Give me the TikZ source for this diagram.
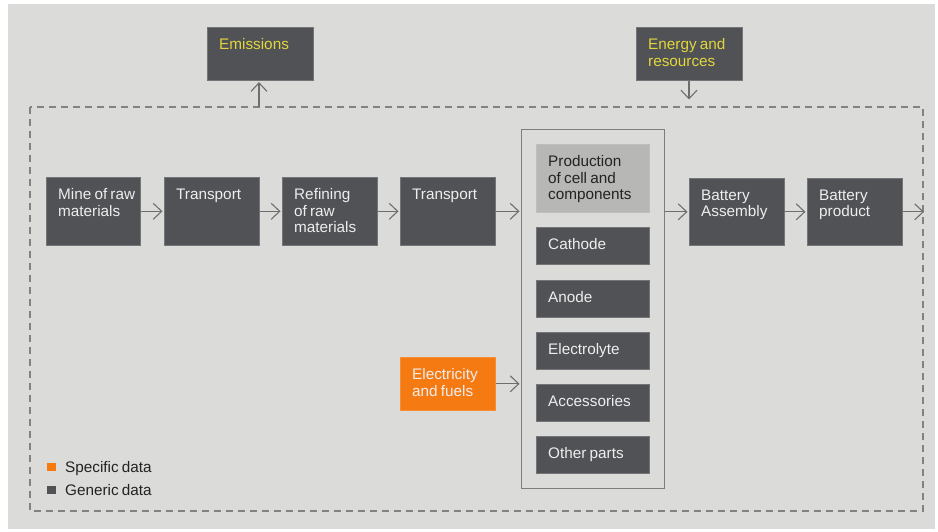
\documentclass[tikz,border=0pt]{standalone}
\usepackage{fontspec}
\setmainfont{Liberation Sans}[WordSpace=0.75]
\usetikzlibrary{arrows.meta}
\definecolor{bg}{RGB}{219,219,217}
\definecolor{dk}{RGB}{80,82,86}
\definecolor{lt}{RGB}{183,183,182}
\definecolor{yel}{RGB}{226,214,60}
\definecolor{org}{RGB}{246,122,18}
\definecolor{ln}{RGB}{110,110,110}
\definecolor{dsh}{RGB}{130,130,130}
\definecolor{txtlight}{RGB}{238,238,238}
\definecolor{txtdark}{RGB}{35,35,35}
\newcommand\mybox[8]{%
  \node[#6, minimum width=#4pt, minimum height=#5pt] (#1) at (#2,#3) {};
  \node[lbl,#7] (#1t) at ([xshift=12pt,yshift=-11.5pt]#1.north west) {#8};}
\begin{document}
\begin{tikzpicture}[x=1pt,y=-1pt,
  gbox/.style={rectangle, fill=dk, draw=dk!80!white, line width=0.6pt, inner sep=0pt, anchor=north west},
  lbox/.style={rectangle, fill=lt, draw=lt!90!white, line width=0.6pt, inner sep=0pt, anchor=north west},
  obox/.style={rectangle, fill=org, draw=org!85!white, line width=0.6pt, inner sep=0pt, anchor=north west},
  cbox/.style={rectangle, draw=ln!90!white, line width=1.2pt, inner sep=0pt, anchor=north west},
  lbl/.style={anchor=north west, inner sep=0pt, align=left, font=\fontsize{15.3}{16.5}\selectfont},
  wt/.style={text=txtlight},
  yt/.style={text=yel},
  dt/.style={text=txtdark},
  arr/.style={draw=ln, line width=1.1pt, shorten >=1.5pt, -{Straight Barb[length=8.5pt,width=16pt,line width=1.1pt]}},
  dashbox/.style={draw=dsh, line width=1.3pt, dash pattern=on 7pt off 5pt},
  legtxt/.style={anchor=base west, inner sep=0pt, text=txtdark, font=\fontsize{15.3}{16.5}\selectfont}
]
\useasboundingbox (0,0) rectangle (938,531);
\fill[white] (0,0) rectangle (938,531);
\fill[bg] (8,4) rectangle (935,529);

% dashed system boundary
\draw[dashbox] (30,107) rectangle (923,511);

% top boxes
\mybox{emis}{207}{27}{106}{53}{gbox}{yt}{Emissions}
\mybox{ener}{636}{27}{106}{53}{gbox}{yt}{Energy and\\resources}

% main chain
\mybox{mine}{46}{177}{94}{68}{gbox}{wt}{Mine of raw\\materials}
\mybox{tra}{164}{177}{95}{68}{gbox}{wt}{Transport}
\mybox{refi}{282}{177}{95}{68}{gbox}{wt}{Refining\\of raw\\materials}
\mybox{trb}{400}{177}{95}{68}{gbox}{wt}{Transport}

% container of cell production
\node[cbox, minimum width=143pt, minimum height=359pt] (cont) at (521,129) {};
\mybox{prod}{536}{144}{113}{68}{lbox}{dt}{Production\\of cell and\\components}
\mybox{cath}{536}{227}{113}{37}{gbox}{wt}{Cathode}
\mybox{anod}{536}{280}{113}{37}{gbox}{wt}{Anode}
\mybox{elyt}{536}{332}{113}{37}{gbox}{wt}{Electrolyte}
\mybox{acce}{536}{384}{113}{37}{gbox}{wt}{Accessories}
\mybox{othp}{536}{436}{113}{37}{gbox}{wt}{Other parts}

\mybox{bass}{689}{178}{95}{67}{gbox}{wt}{Battery\\Assembly}
\mybox{bpro}{807}{178}{95}{67}{gbox}{wt}{Battery\\product}

\mybox{efue}{400}{357}{95}{53}{obox}{wt}{Electricity\\and fuels}

% legend
\node[rectangle, fill=org, inner sep=0pt, minimum width=9pt, minimum height=8pt, anchor=north west] (legs) at (47,463) {};
\node[rectangle, fill=dk, inner sep=0pt, minimum width=9pt, minimum height=8pt, anchor=north west] (legg) at (47,486) {};
\node[legtxt] (legst) at (65,472) {Specific data};
\node[legtxt] (leggt) at (65,495) {Generic data};

% connectors
\coordinate (emisbase) at (259,107);
\coordinate (enertip) at (689,101);
\coordinate (outend) at (924,211);
\draw[arr] (emisbase) -- (emisbase |- emis.south);
\draw[arr] (ener.south -| enertip) -- (enertip);
\draw[arr] (mine.east) -- (tra.west);
\draw[arr] (tra.east) -- (refi.west);
\draw[arr] (refi.east) -- (trb.west);
\draw[arr] (trb.east) -- (trb.east -| cont.west);
\draw[arr] (cont.east |- bass.west) -- (bass.west);
\draw[arr] (bass.east) -- (bpro.west);
\draw[arr, shorten >=0pt] (bpro.east) -- (bpro.east -| outend);
\draw[arr] (efue.east) -- (efue.east -| cont.west);
\end{tikzpicture}
\end{document}
